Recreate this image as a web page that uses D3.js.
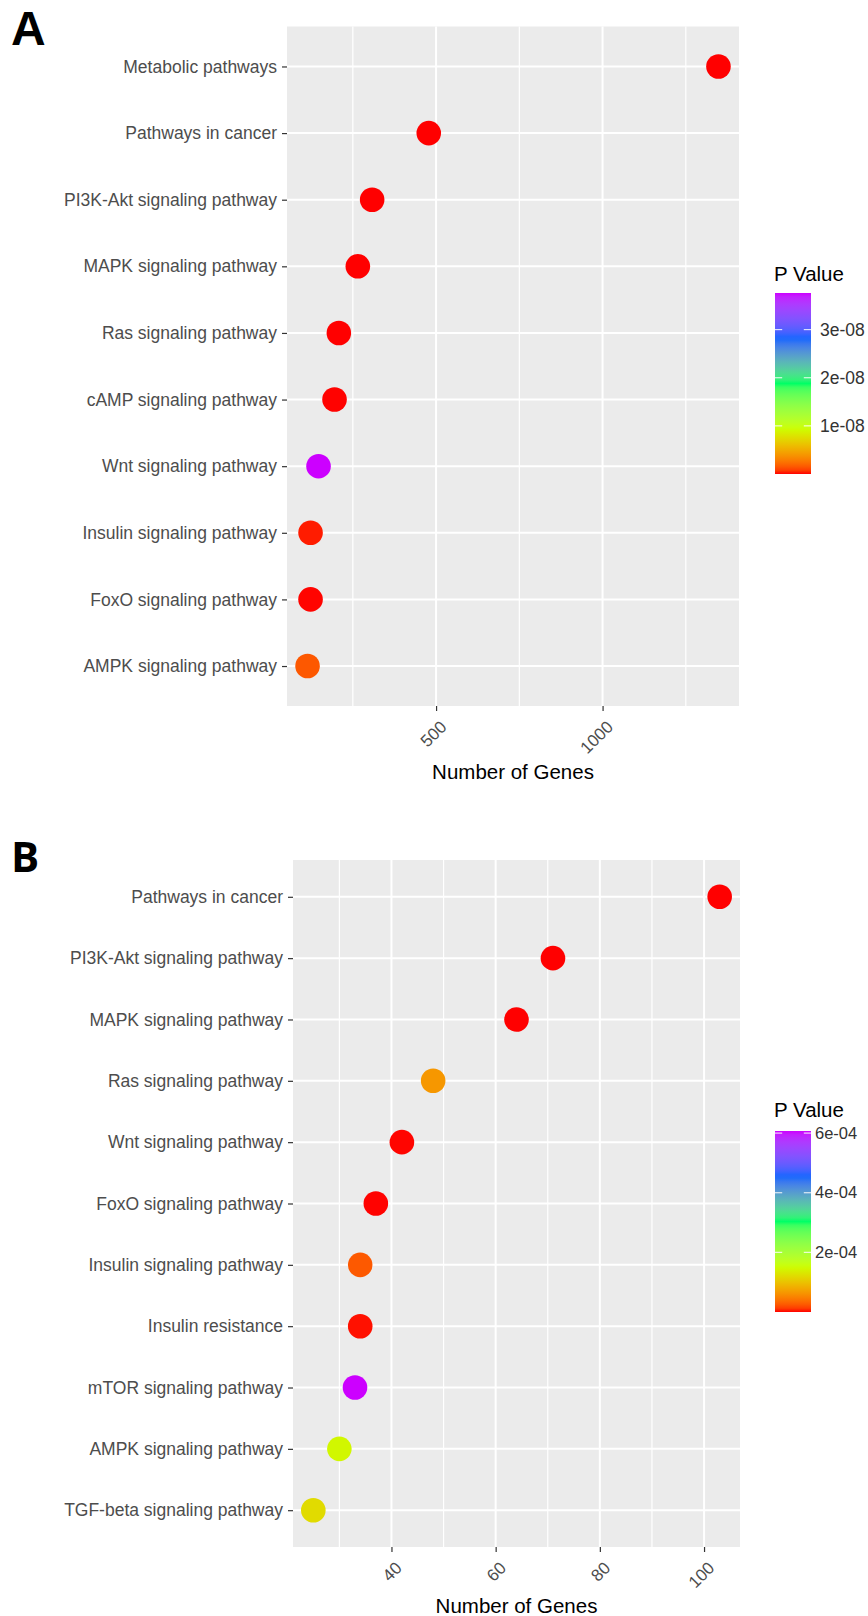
<!DOCTYPE html>
<html><head><meta charset="utf-8">
<script src="https://cdn.jsdelivr.net/npm/d3@7"></script>
<style>
body{margin:0;background:#fff}
svg{display:block}
text{font-family:"Liberation Sans",Arial,Helvetica,sans-serif}
</style>
</head><body>
<svg id="chart" width="868" height="1616"></svg>
<script>
// ---------- Panel A data ----------
const pathwaysA = ["Metabolic pathways","Pathways in cancer","PI3K-Akt signaling pathway","MAPK signaling pathway","Ras signaling pathway","cAMP signaling pathway","Wnt signaling pathway","Insulin signaling pathway","FoxO signaling pathway","AMPK signaling pathway"];
const genesA = [1348, 478, 308, 265, 208, 195, 147, 123, 123, 114];
const pvalA = [4.5e-20, 2.1e-18, 6.0e-14, 3.5e-13, 1.2e-12, 8.0e-12, 3.76e-8, 2.0e-10, 2.0e-11, 1.5e-9];
const xTicksA = [500, 1000];
const xTickLabelsA = ["500", "1000"];
const xMinorA = [250, 750, 1250];
const legendTicksA = [1e-8, 2e-8, 3e-8];
const legendLabelsA = ["1e-08", "2e-08", "3e-08"];

// ---------- Panel B data ----------
const pathwaysB = ["Pathways in cancer","PI3K-Akt signaling pathway","MAPK signaling pathway","Ras signaling pathway","Wnt signaling pathway","FoxO signaling pathway","Insulin signaling pathway","Insulin resistance","mTOR signaling pathway","AMPK signaling pathway","TGF-beta signaling pathway"];
const genesB = [103, 71, 64, 48, 42, 37, 34, 34, 33, 30, 25];
const pvalB = [1.2e-12, 3.0e-9, 5.0e-9, 6.5e-5, 4.0e-7, 2.0e-7, 2.5e-5, 1.5e-6, 6.07e-4, 1.45e-4, 1.2e-4];
const xTicksB = [40, 60, 80, 100];
const xTickLabelsB = ["40", "60", "80", "100"];
const xMinorB = [30, 50, 70, 90];
const legendTicksB = [2e-4, 4e-4, 6e-4];
const legendLabelsB = ["2e-04", "4e-04", "6e-04"];

// colour palette (low = red, high = purple)
const rainbow5 = ["#FF0000", "#CCFF00", "#00FF66", "#0066FF", "#CC00FF"];

const svg = d3.select("#chart");

function drawPanel(cfg) {
  const g = svg.append("g");
  const p = cfg.panel;

  // panel letter
  g.append("text").attr("x", cfg.letter.x).attr("y", cfg.letter.y)
    .attr("font-size", cfg.letter.size).attr("font-weight", "bold")
    .attr("fill", "#000").style("font-family", cfg.letter.font)
    .text(cfg.letter.text);

  // scales
  const [gmin, gmax] = d3.extent(cfg.genes);
  const pad = (gmax - gmin) * 0.05;
  const x = d3.scaleLinear().domain([gmin - pad, gmax + pad]).range([p.l, p.r]);
  const y = d3.scalePoint().domain(cfg.cats).range([p.t, p.b]).padding(0.6);
  const cmin = d3.min(cfg.pvals), cmax = d3.max(cfg.pvals);
  const color = d3.scaleLinear()
    .domain(d3.range(5).map(i => cmin + (cmax - cmin) * i / 4))
    .range(rainbow5).interpolate(d3.interpolateLab);

  // background
  g.append("rect").attr("x", p.l).attr("y", p.t).attr("width", p.r - p.l).attr("height", p.b - p.t)
    .attr("fill", "#EBEBEB");

  // minor grid
  g.selectAll(".minor").data(cfg.xMinor).enter().append("line")
    .attr("x1", d => x(d)).attr("x2", d => x(d)).attr("y1", p.t).attr("y2", p.b)
    .attr("stroke", "#fff").attr("stroke-width", 1.2);
  // major grid
  g.selectAll(".majorx").data(cfg.xTicks).enter().append("line")
    .attr("x1", d => x(d)).attr("x2", d => x(d)).attr("y1", p.t).attr("y2", p.b)
    .attr("stroke", "#fff").attr("stroke-width", 2);
  g.selectAll(".majory").data(cfg.cats).enter().append("line")
    .attr("x1", p.l).attr("x2", p.r).attr("y1", d => y(d)).attr("y2", d => y(d))
    .attr("stroke", "#fff").attr("stroke-width", 2);

  // points
  g.selectAll(".pt").data(cfg.cats).enter().append("circle")
    .attr("cx", (d, i) => x(cfg.genes[i])).attr("cy", d => y(d)).attr("r", 12.3)
    .attr("fill", (d, i) => color(cfg.pvals[i]));

  // y axis
  const yAxis = g.append("g").attr("transform", `translate(${p.l},0)`)
    .call(d3.axisLeft(y).tickSize(5).tickPadding(5));
  yAxis.select(".domain").remove();
  yAxis.selectAll(".tick line").attr("stroke", "#333").attr("stroke-width", 1.2);
  yAxis.selectAll(".tick text").attr("fill", "#4D4D4D").attr("font-size", 17.5)
    .style("font-family", '"Liberation Sans",Arial,sans-serif');

  // x axis
  const xAxis = g.append("g").attr("transform", `translate(0,${p.b})`)
    .call(d3.axisBottom(x).tickValues(cfg.xTicks).tickSize(5)
      .tickFormat((d, i) => cfg.xTickLabels[i]));
  xAxis.select(".domain").remove();
  xAxis.selectAll(".tick line").attr("stroke", "#333").attr("stroke-width", 1.2);
  xAxis.selectAll(".tick text")
    .attr("fill", "#4D4D4D").attr("font-size", 17)
    .style("font-family", '"Liberation Sans",Arial,sans-serif')
    .attr("text-anchor", "end").attr("dy", null).attr("y", null)
    .attr("transform", "translate(11,22) rotate(-45)");

  // x title
  g.append("text").attr("x", (p.l + p.r) / 2).attr("y", cfg.titleY)
    .attr("text-anchor", "middle").attr("font-size", 20.5).attr("fill", "#000")
    .text("Number of Genes");

  // legend
  const L = cfg.legend;
  g.append("text").attr("x", L.x - 1).attr("y", L.titleY).attr("font-size", 20.5)
    .attr("fill", "#000").text("P Value");
  const gradId = "grad" + cfg.id;
  const grad = svg.append("defs").append("linearGradient").attr("id", gradId)
    .attr("x1", 0).attr("y1", 1).attr("x2", 0).attr("y2", 0);
  d3.range(0, 1.0001, 0.02).forEach(t => {
    grad.append("stop").attr("offset", t).attr("stop-color", color(cmin + (cmax - cmin) * t));
  });
  const ls = d3.scaleLinear().domain([cmin, cmax]).range([L.bottom, L.top]);
  g.append("rect").attr("x", L.x).attr("y", L.top).attr("width", L.w).attr("height", L.bottom - L.top)
    .attr("fill", `url(#${gradId})`);
  const tk = g.selectAll(".legtick").data(cfg.legTicks).enter().append("g");
  tk.append("line").attr("x1", L.x).attr("x2", L.x + L.w / 5)
    .attr("y1", d => ls(d)).attr("y2", d => ls(d)).attr("stroke", "#fff").attr("stroke-width", 1.2).attr("opacity", 0.8);
  tk.append("line").attr("x1", L.x + L.w - L.w / 5).attr("x2", L.x + L.w)
    .attr("y1", d => ls(d)).attr("y2", d => ls(d)).attr("stroke", "#fff").attr("stroke-width", 1.2).attr("opacity", 0.8);
  tk.append("text").attr("x", L.labelX).attr("y", d => ls(d)).attr("dy", "0.35em")
    .attr("font-size", L.labelSize).attr("fill", "#333")
    .text((d, i) => cfg.legLabels[i]);
}

drawPanel({
  id: "A",
  cats: pathwaysA, genes: genesA, pvals: pvalA,
  xTicks: xTicksA, xTickLabels: xTickLabelsA, xMinor: xMinorA,
  legTicks: legendTicksA, legLabels: legendLabelsA,
  letter: { text: "A", x: 11, y: 45, size: 48, font: '"Liberation Sans",Arial,sans-serif' },
  panel: { l: 287, t: 26.5, r: 739, b: 706 },
  titleY: 779,
  legend: { x: 775, w: 36, top: 293, bottom: 474, titleY: 281, labelX: 820, labelSize: 17.5 }
});

drawPanel({
  id: "B",
  cats: pathwaysB, genes: genesB, pvals: pvalB,
  xTicks: xTicksB, xTickLabels: xTickLabelsB, xMinor: xMinorB,
  legTicks: legendTicksB, legLabels: legendLabelsB,
  letter: { text: "B", x: 11, y: 872, size: 42, font: '"Open Sans","Liberation Sans",Arial,sans-serif' },
  panel: { l: 293, t: 860, r: 740, b: 1547 },
  titleY: 1613,
  legend: { x: 775, w: 36, top: 1131, bottom: 1312, titleY: 1117, labelX: 815, labelSize: 16.5 }
});
</script>
</body></html>
